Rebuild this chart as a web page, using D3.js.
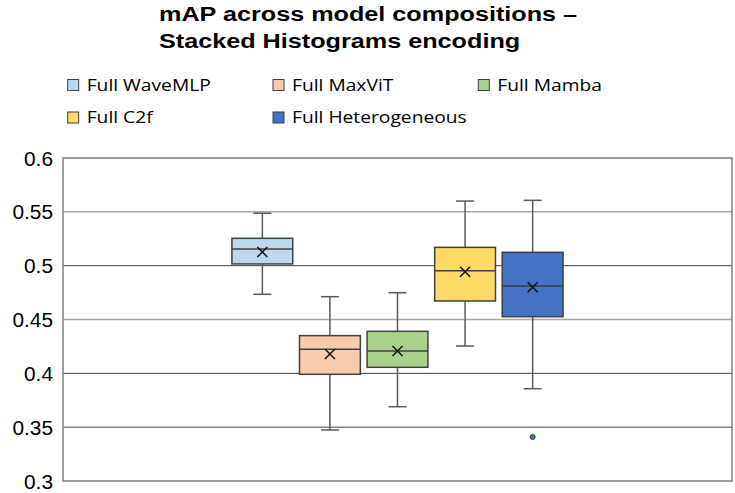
<!DOCTYPE html>
<html lang="en">
<head>
    <meta charset="UTF-8">
    <title>mAP box plot</title>
    <script src="https://d3js.org/d3.v7.min.js"></script>
    <style>
        body { margin: 0; background: #fff; }
        svg { display: block; }
    </style>
</head>
<body>
    <div id="chart"></div>
    <script>
        // chart values
        const series = ["Full WaveMLP", "Full MaxViT", "Full Mamba", "Full C2f", "Full Heterogeneous"];
        const colors = ["#bdd7ee", "#f8cbad", "#a9d18e", "#ffd966", "#4472c4"];
        const whiskerLow = [0.4734, 0.3474, 0.3690, 0.4254, 0.3857];
        const q1 = [0.5016, 0.3991, 0.4056, 0.4672, 0.4526];
        const median = [0.5155, 0.4223, 0.4207, 0.4953, 0.4811];
        const q3 = [0.5254, 0.4350, 0.4390, 0.5170, 0.5124];
        const whiskerHigh = [0.5487, 0.4712, 0.4749, 0.5600, 0.5607];
        const means = [0.5127, 0.4180, 0.4207, 0.4944, 0.4799];
        const outliers = [[], [], [], [], [0.3409]];
        const yTicks = [0.3, 0.35, 0.4, 0.45, 0.5, 0.55, 0.6];
        const titleLines = ["mAP across model compositions \u2013", "Stacked Histograms encoding"];

        const width = 735;
        const height = 493;
        const plot = { left: 63, right: 732, top: 158, bottom: 481 };
        const lightGrid = new Set([0.45, 0.55]);   // these gridlines render lighter in the original

        const svg = d3.select('#chart').append('svg')
            .attr('width', width)
            .attr('height', height);

        const y = d3.scaleLinear()
            .domain([0.3, 0.6])
            .range([plot.bottom, plot.top]);

        const x = d3.scaleBand()
            .domain(series)
            .range([plot.left, plot.right])
            .paddingInner(0.1)
            .paddingOuter(2.5);

        // title
        const title = svg.append('g')
            .attr('transform', 'translate(159,0) scale(1.2,1)');
        title.selectAll('text')
            .data(titleLines)
            .enter()
            .append('text')
            .attr('x', 0)
            .attr('y', (d, i) => 21 + i * 27)
            .attr('font-family', '"Liberation Sans", Arial, sans-serif')
            .attr('font-weight', 'bold')
            .attr('font-size', 21)
            .attr('fill', '#000')
            .text(d => d);

        // legend, 3 per row
        const legend = svg.selectAll('.legend')
            .data(series)
            .enter()
            .append('g')
            .attr('class', 'legend')
            .attr('transform', (d, i) => `translate(${67.7 + (i % 3) * 205.3},${79.5 + Math.floor(i / 3) * 32.5})`);
        legend.append('rect')
            .attr('width', 11)
            .attr('height', 11)
            .attr('fill', (d, i) => colors[i])
            .attr('stroke', '#404040')
            .attr('stroke-width', 1);
        legend.append('text')
            .attr('transform', 'translate(19,11) scale(1.18,1)')
            .attr('font-family', '"Open Sans", sans-serif')
            .attr('font-size', 16.3)
            .attr('fill', '#000')
            .text(d => d);

        // gridlines
        svg.selectAll('.grid')
            .data(yTicks.slice(1, -1))
            .enter()
            .append('line')
            .attr('x1', plot.left)
            .attr('x2', plot.right)
            .attr('y1', d => y(d))
            .attr('y2', d => y(d))
            .attr('stroke', d => lightGrid.has(d) ? '#a6a6a6' : '#404040')
            .attr('stroke-width', d => lightGrid.has(d) ? 1.5 : 1);

        // plot frame
        svg.append('rect')
            .attr('x', plot.left)
            .attr('y', plot.top)
            .attr('width', plot.right - plot.left)
            .attr('height', plot.bottom - plot.top)
            .attr('fill', 'none')
            .attr('stroke', '#7f7f7f')
            .attr('stroke-width', 1.5);

        // y axis labels
        const yAxis = svg.append('g')
            .attr('transform', `translate(${plot.left},0)`)
            .call(d3.axisLeft(y).tickValues(yTicks).tickSize(0).tickFormat(d => String(+d.toFixed(2))));
        yAxis.select('.domain').remove();
        yAxis.selectAll('text')
            .attr('x', null)
            .attr('dy', null)
            .attr('transform', 'translate(-10,7) scale(1.07,1)')
            .attr('font-family', '"Liberation Sans", Arial, sans-serif')
            .attr('font-size', 19.5)
            .attr('fill', '#000');

        // boxes
        const bw = x.bandwidth();
        const cap = 18;
        const boxes = svg.selectAll('.box')
            .data(series)
            .enter()
            .append('g')
            .attr('class', 'box')
            .attr('transform', d => `translate(${x(d)},0)`);

        // whiskers
        boxes.append('line')
            .attr('x1', bw / 2).attr('x2', bw / 2)
            .attr('y1', (d, i) => y(whiskerHigh[i]))
            .attr('y2', (d, i) => y(q3[i]))
            .attr('stroke', '#595959').attr('stroke-width', 1.5);
        boxes.append('line')
            .attr('x1', bw / 2).attr('x2', bw / 2)
            .attr('y1', (d, i) => y(q1[i]))
            .attr('y2', (d, i) => y(whiskerLow[i]))
            .attr('stroke', '#595959').attr('stroke-width', 1.5);
        boxes.append('line')
            .attr('x1', bw / 2 - cap / 2).attr('x2', bw / 2 + cap / 2)
            .attr('y1', (d, i) => y(whiskerHigh[i]))
            .attr('y2', (d, i) => y(whiskerHigh[i]))
            .attr('stroke', '#595959').attr('stroke-width', 1.5);
        boxes.append('line')
            .attr('x1', bw / 2 - cap / 2).attr('x2', bw / 2 + cap / 2)
            .attr('y1', (d, i) => y(whiskerLow[i]))
            .attr('y2', (d, i) => y(whiskerLow[i]))
            .attr('stroke', '#595959').attr('stroke-width', 1.5);

        // box
        boxes.append('rect')
            .attr('x', 0)
            .attr('width', bw)
            .attr('y', (d, i) => y(q3[i]))
            .attr('height', (d, i) => y(q1[i]) - y(q3[i]))
            .attr('fill', (d, i) => colors[i])
            .attr('stroke', '#404040')
            .attr('stroke-width', 1.5);

        // median
        boxes.append('line')
            .attr('x1', 0).attr('x2', bw)
            .attr('y1', (d, i) => y(median[i]))
            .attr('y2', (d, i) => y(median[i]))
            .attr('stroke', '#404040').attr('stroke-width', 1.5);

        // mean marker (x)
        const m = 5;
        boxes.append('path')
            .attr('d', (d, i) => {
                const cy = y(means[i]);
                const cx = bw / 2;
                return `M${cx - m},${cy - m}L${cx + m},${cy + m}M${cx - m},${cy + m}L${cx + m},${cy - m}`;
            })
            .attr('stroke', '#111')
            .attr('stroke-width', 1.5)
            .attr('fill', 'none');

        // outliers
        boxes.each(function(d, i) {
            d3.select(this).selectAll('circle')
                .data(outliers[i])
                .enter()
                .append('circle')
                .attr('cx', bw / 2)
                .attr('cy', v => y(v))
                .attr('r', 2.5)
                .attr('fill', colors[i])
                .attr('stroke', '#203864')
                .attr('stroke-width', 1);
        });
    </script>
</body>
</html>
